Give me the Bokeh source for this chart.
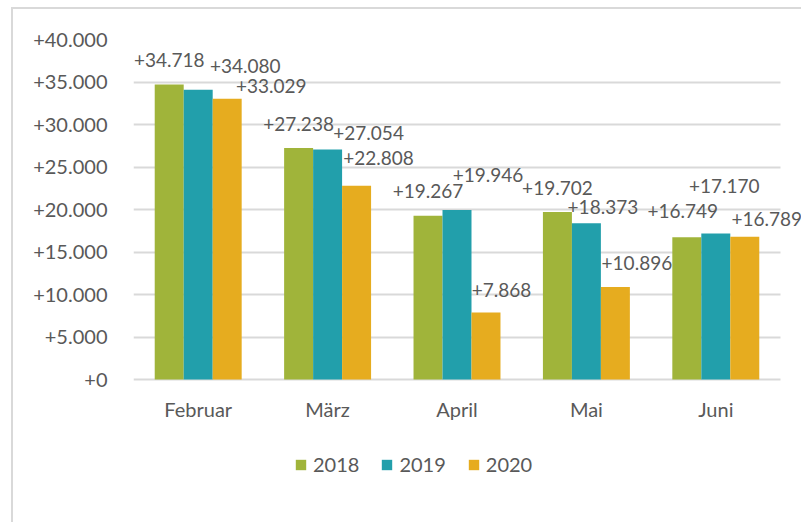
from bokeh.plotting import figure
from bokeh.models import (ColumnDataSource, FixedTicker, Legend, LegendItem, Range1d,
                          BoxAnnotation)
from bokeh.transform import dodge
from bokeh.core.properties import value
from bokeh.embed import file_html
from bokeh.resources import INLINE

months = ["Februar", "März", "April", "Mai", "Juni"]
years = ["2018", "2019", "2020"]
v2018 = [34718, 27238, 19267, 19702, 16749]
v2019 = [34080, 27054, 19946, 18373, 17170]
v2020 = [33029, 22808, 7868, 10896, 16789]
y_ticks = [0, 5000, 10000, 15000, 20000, 25000, 30000, 35000, 40000]

colors = ["#A0B43A", "#229FAB", "#E6AC1F"]
TEXT = "#595959"
GRID = "#D9D9D9"
FONT = "Lato"

# label placement (screen pixel offsets from bar top centre)
dx = [[0, 0, 0, 0, -4], [47, 41, 31, 16.5, 8.5], [44, 22, 15.5, 21.5, 22]]
up = [[24.5, 23.5, 24.7, 24, 26.5], [24, 16.5, 34.5, 16, 47.5], [13, 27.5, 22.5, 24, 18]]


def fmt(v):
    return "+" + f"{v:,}".replace(",", ".")


n = len(months)
xpos = [i + 0.5 for i in range(n)]  # category centres
series = [v2018, v2019, v2020]
data = dict(month=months, x=xpos)
for yr, vals, d, u in zip(years, series, dx, up):
    data["v" + yr] = vals
    data["l" + yr] = [fmt(v) for v in vals]
    data["dx" + yr] = d
    data["dy" + yr] = [-x for x in u]
src = ColumnDataSource(data)

# layout in pixels: plot area 133..780 wide (categories), frame extended to 801 so labels can overhang
LEFT, RIGHT_CAT, W = 133, 780, 801
TOP, BOTTOM, ZERO = 39, 482, 379
px_per_unit = (ZERO - TOP) / 40000
y_start = -(BOTTOM - ZERO) / px_per_unit
px_per_cat = (RIGHT_CAT - LEFT) / n
x_end = (W - LEFT) / px_per_cat

p = figure(x_range=Range1d(0, x_end), y_range=Range1d(y_start, 40000), width=W, height=522,
           output_backend="svg", toolbar_location=None,
           min_border_left=LEFT, min_border_right=0, min_border_top=TOP,
           min_border_bottom=522 - BOTTOM)
line = "linear-gradient(#D9D9D9,#D9D9D9)"
p.styles = {"background-color": "white",
            "background-image": f"{line}, {line}",
            "background-size": "2px 520px, 795px 2px",
            "background-position": "11px 7px, 11px 7px",
            "background-repeat": "no-repeat"}
p.outline_line_color = None
p.background_fill_color = "white"
p.border_fill_alpha = 0

# mask gridlines beyond the category area
p.add_layout(BoxAnnotation(left=n, fill_color="white", fill_alpha=1, line_color=None,
                           level="underlay"))

bw = 0.224
offs = [-bw, 0, bw]
items = []
for yr, c, o in zip(years, colors, offs):
    r = p.vbar(x=dodge("x", o), top="v" + yr, width=bw,
               source=src, fill_color=c, line_color=None)
    items.append(LegendItem(label=yr, renderers=[r]))
for yr, o in zip(years, offs):
    p.text(x=dodge("x", o), y="v" + yr, text="l" + yr,
           x_offset="dx" + yr, y_offset="dy" + yr, source=src,
           text_align="center", text_baseline="middle",
           text_font=value(FONT), text_font_size="19px", text_color=TEXT)

p.yaxis.ticker = FixedTicker(ticks=y_ticks)
p.yaxis.major_label_overrides = {t: fmt(t) for t in y_ticks}
p.xaxis.ticker = FixedTicker(ticks=xpos)
p.xaxis.major_label_overrides = {x: m for x, m in zip(xpos, months)}
for ax in (p.xaxis, p.yaxis):
    ax.axis_line_color = None
    ax.major_tick_line_color = None
    ax.minor_tick_line_color = None
    ax.major_label_text_font = FONT
    ax.major_label_text_font_size = "20px"
    ax.major_label_text_color = TEXT
p.yaxis.major_label_standoff = 20
p.xaxis.major_label_standoff = 11
p.xaxis.fixed_location = 0

p.xgrid.grid_line_color = None
p.ygrid.grid_line_color = GRID
p.ygrid.grid_line_width = 2

legend = Legend(items=items, orientation="horizontal", location=(161, 6),
                glyph_width=13, glyph_height=13, label_standoff=6, spacing=21,
                padding=0, margin=0, border_line_color=None, background_fill_alpha=0,
                label_text_font=FONT, label_text_font_size="20px", label_text_color=TEXT)
p.add_layout(legend, "center")

open("out.html", "w").write(file_html(p, INLINE))
